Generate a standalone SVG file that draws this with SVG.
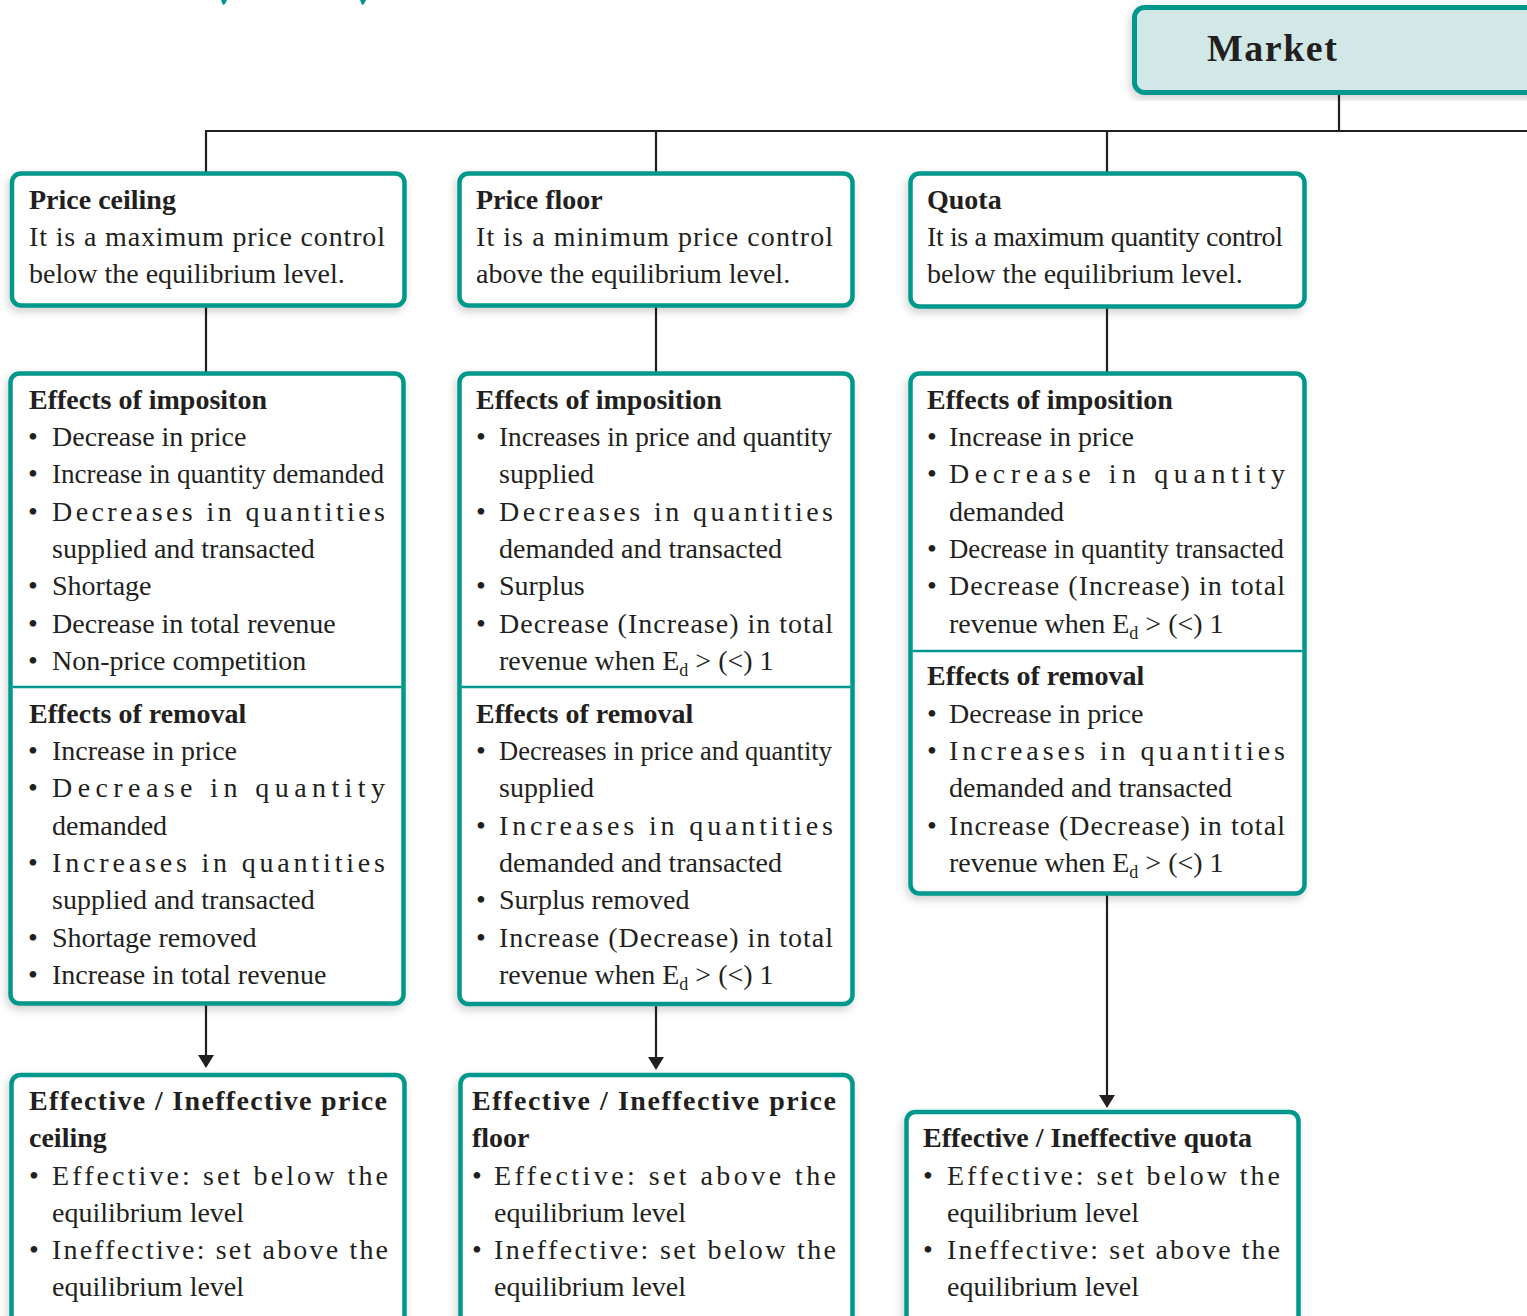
<svg xmlns="http://www.w3.org/2000/svg" width="1527" height="1316" viewBox="0 0 1527 1316">
<defs>
<style>
.box{fill:#fff;stroke:#00988c;stroke-width:4.5;filter:url(#sh)}
.mk{fill:#d2e8e6;stroke:#00988c;stroke-width:5;filter:url(#sh)}
.div{stroke:#00988c;stroke-width:2.5;fill:none}
.ln{stroke:#231f20;stroke-width:2.2;fill:none}
.t{font-family:"Liberation Serif","Times New Roman",serif;font-size:28px;fill:#231f20}
.h{font-weight:bold}
.m{font-family:"Liberation Serif","Times New Roman",serif;font-size:38px;font-weight:bold;letter-spacing:1.5px;fill:#231f20}
.sub{font-size:18px}
</style>
<filter id="sh" x="-10%" y="-10%" width="120%" height="120%">
<feDropShadow dx="-2" dy="4" stdDeviation="4" flood-color="#000" flood-opacity="0.18"/>
</filter>
</defs>
<rect width="1527" height="1316" fill="#fff"/>
<path d="M221,0 L227,0 L225,4 L223,5 Z M360,0 L366,0 L364,4 L362,5 Z" fill="#00988c"/>

<g id="connectors">
<path class="ln" d="M1339,92 V131 M205,131 H1527 M206,131 V173 M656,131 V173 M1107,131 V173"/>
<path class="ln" d="M206,306 V373 M656,306 V373 M1107,306 V373"/>
<line class="ln" x1="206" y1="1005" x2="206" y2="1056"/>
<path d="M198,1055 L214,1055 L206,1068 Z" fill="#231f20"/>
<line class="ln" x1="656" y1="1005" x2="656" y2="1058"/>
<path d="M648,1057 L664,1057 L656,1070 Z" fill="#231f20"/>
<line class="ln" x1="1107" y1="894" x2="1107" y2="1096"/>
<path d="M1099,1095 L1115,1095 L1107,1108 Z" fill="#231f20"/>
</g>

<g id="market">
<rect class="mk" x="1134.5" y="7.5" width="420" height="85" rx="10"/>
<text class="m" x="1207" y="61">Market</text>
</g>

<g id="price-ceiling">
<rect class="box" x="12" y="173.5" width="392.5" height="132" rx="9"/>
<text class="t h" x="29" y="209">Price ceiling</text>
<text class="t" x="29" y="246" textLength="356" lengthAdjust="spacing">It is a maximum price control</text>
<text class="t" x="29" y="283">below the equilibrium level.</text>
</g>

<g id="price-floor">
<rect class="box" x="459.5" y="173.5" width="393" height="132" rx="9"/>
<text class="t h" x="476" y="209">Price floor</text>
<text class="t" x="476" y="246" textLength="357" lengthAdjust="spacing">It is a minimum price control</text>
<text class="t" x="476" y="283">above the equilibrium level.</text>
</g>

<g id="quota">
<rect class="box" x="910.5" y="173.5" width="394" height="133" rx="9"/>
<text class="t h" x="927" y="209">Quota</text>
<text class="t" x="927" y="246" textLength="356" lengthAdjust="spacing">It is a maximum quantity control</text>
<text class="t" x="927" y="283">below the equilibrium level.</text>
</g>

<g id="ceiling-effects">
<rect class="box" x="10.5" y="373.5" width="393" height="630" rx="9"/>
<line class="div" x1="12.5" y1="687" x2="401.5" y2="687"/>
<text class="t h" x="29" y="409">Effects of impositon</text>
<text class="t" x="28" y="446">•</text><text class="t" x="52" y="446">Decrease in price</text>
<text class="t" x="28" y="483">•</text><text class="t" x="52" y="483" textLength="332" lengthAdjust="spacingAndGlyphs">Increase in quantity demanded</text>
<text class="t" x="28" y="521">•</text><text class="t" x="52" y="521" textLength="333" lengthAdjust="spacing">Decreases in quantities</text>
<text class="t" x="52" y="558">supplied and transacted</text>
<text class="t" x="28" y="595">•</text><text class="t" x="52" y="595">Shortage</text>
<text class="t" x="28" y="633">•</text><text class="t" x="52" y="633">Decrease in total revenue</text>
<text class="t" x="28" y="670">•</text><text class="t" x="52" y="670">Non-price competition</text>
<text class="t h" x="29" y="723">Effects of removal</text>
<text class="t" x="28" y="760">•</text><text class="t" x="52" y="760">Increase in price</text>
<text class="t" x="28" y="797">•</text><text class="t" x="52" y="797" textLength="333" lengthAdjust="spacing">Decrease in quantity</text>
<text class="t" x="52" y="835">demanded</text>
<text class="t" x="28" y="872">•</text><text class="t" x="52" y="872" textLength="333" lengthAdjust="spacing">Increases in quantities</text>
<text class="t" x="52" y="909">supplied and transacted</text>
<text class="t" x="28" y="947">•</text><text class="t" x="52" y="947">Shortage removed</text>
<text class="t" x="28" y="984">•</text><text class="t" x="52" y="984">Increase in total revenue</text>
</g>

<g id="floor-effects">
<rect class="box" x="459.5" y="373.5" width="393" height="630.5" rx="9"/>
<line class="div" x1="461.5" y1="687" x2="850.5" y2="687"/>
<text class="t h" x="476" y="409">Effects of imposition</text>
<text class="t" x="476" y="446">•</text><text class="t" x="499" y="446" textLength="333" lengthAdjust="spacingAndGlyphs">Increases in price and quantity</text>
<text class="t" x="499" y="483">supplied</text>
<text class="t" x="476" y="521">•</text><text class="t" x="499" y="521" textLength="334" lengthAdjust="spacing">Decreases in quantities</text>
<text class="t" x="499" y="558">demanded and transacted</text>
<text class="t" x="476" y="595">•</text><text class="t" x="499" y="595">Surplus</text>
<text class="t" x="476" y="633">•</text><text class="t" x="499" y="633" textLength="334" lengthAdjust="spacing">Decrease (Increase) in total</text>
<text class="t" x="499" y="670">revenue when E<tspan class="sub" dy="6">d</tspan><tspan dy="-6"> &gt; (&lt;) 1</tspan></text>
<text class="t h" x="476" y="723">Effects of removal</text>
<text class="t" x="476" y="760">•</text><text class="t" x="499" y="760" textLength="333" lengthAdjust="spacingAndGlyphs">Decreases in price and quantity</text>
<text class="t" x="499" y="797">supplied</text>
<text class="t" x="476" y="835">•</text><text class="t" x="499" y="835" textLength="334" lengthAdjust="spacing">Increases in quantities</text>
<text class="t" x="499" y="872">demanded and transacted</text>
<text class="t" x="476" y="909">•</text><text class="t" x="499" y="909">Surplus removed</text>
<text class="t" x="476" y="947">•</text><text class="t" x="499" y="947" textLength="334" lengthAdjust="spacing">Increase (Decrease) in total</text>
<text class="t" x="499" y="984">revenue when E<tspan class="sub" dy="6">d</tspan><tspan dy="-6"> &gt; (&lt;) 1</tspan></text>
</g>

<g id="quota-effects">
<rect class="box" x="910.5" y="373.5" width="394" height="520" rx="9"/>
<line class="div" x1="912.5" y1="651" x2="1302.5" y2="651"/>
<text class="t h" x="927" y="409">Effects of imposition</text>
<text class="t" x="927" y="446">•</text><text class="t" x="949" y="446">Increase in price</text>
<text class="t" x="927" y="483">•</text><text class="t" x="949" y="483" textLength="336" lengthAdjust="spacing">Decrease in quantity</text>
<text class="t" x="949" y="521">demanded</text>
<text class="t" x="927" y="558">•</text><text class="t" x="949" y="558" textLength="335" lengthAdjust="spacingAndGlyphs">Decrease in quantity transacted</text>
<text class="t" x="927" y="595">•</text><text class="t" x="949" y="595" textLength="336" lengthAdjust="spacing">Decrease (Increase) in total</text>
<text class="t" x="949" y="633">revenue when E<tspan class="sub" dy="6">d</tspan><tspan dy="-6"> &gt; (&lt;) 1</tspan></text>
<text class="t h" x="927" y="685">Effects of removal</text>
<text class="t" x="927" y="723">•</text><text class="t" x="949" y="723">Decrease in price</text>
<text class="t" x="927" y="760">•</text><text class="t" x="949" y="760" textLength="336" lengthAdjust="spacing">Increases in quantities</text>
<text class="t" x="949" y="797">demanded and transacted</text>
<text class="t" x="927" y="835">•</text><text class="t" x="949" y="835" textLength="336" lengthAdjust="spacing">Increase (Decrease) in total</text>
<text class="t" x="949" y="872">revenue when E<tspan class="sub" dy="6">d</tspan><tspan dy="-6"> &gt; (&lt;) 1</tspan></text>
</g>

<g id="ceiling-effectiveness">
<rect class="box" x="11.5" y="1075" width="393" height="270" rx="9"/>
<text class="t h" x="29" y="1110" textLength="358" lengthAdjust="spacing">Effective / Ineffective price</text>
<text class="t h" x="29" y="1147">ceiling</text>
<text class="t" x="29" y="1185">•</text><text class="t" x="52" y="1185" textLength="336" lengthAdjust="spacing">Effective: set below the</text>
<text class="t" x="52" y="1222">equilibrium level</text>
<text class="t" x="29" y="1259">•</text><text class="t" x="52" y="1259" textLength="336" lengthAdjust="spacing">Ineffective: set above the</text>
<text class="t" x="52" y="1296">equilibrium level</text>
</g>

<g id="floor-effectiveness">
<rect class="box" x="460.5" y="1075" width="392" height="270" rx="9"/>
<text class="t h" x="472" y="1110" textLength="364" lengthAdjust="spacing">Effective / Ineffective price</text>
<text class="t h" x="472" y="1147">floor</text>
<text class="t" x="472" y="1185">•</text><text class="t" x="494" y="1185" textLength="342" lengthAdjust="spacing">Effective: set above the</text>
<text class="t" x="494" y="1222">equilibrium level</text>
<text class="t" x="472" y="1259">•</text><text class="t" x="494" y="1259" textLength="342" lengthAdjust="spacing">Ineffective: set below the</text>
<text class="t" x="494" y="1296">equilibrium level</text>
</g>

<g id="quota-effectiveness">
<rect class="box" x="906.5" y="1112" width="392" height="240" rx="9"/>
<text class="t h" x="923" y="1147">Effective / Ineffective quota</text>
<text class="t" x="923" y="1185">•</text><text class="t" x="947" y="1185" textLength="333" lengthAdjust="spacing">Effective: set below the</text>
<text class="t" x="947" y="1222">equilibrium level</text>
<text class="t" x="923" y="1259">•</text><text class="t" x="947" y="1259" textLength="333" lengthAdjust="spacing">Ineffective: set above the</text>
<text class="t" x="947" y="1296">equilibrium level</text>
</g>
</svg>
